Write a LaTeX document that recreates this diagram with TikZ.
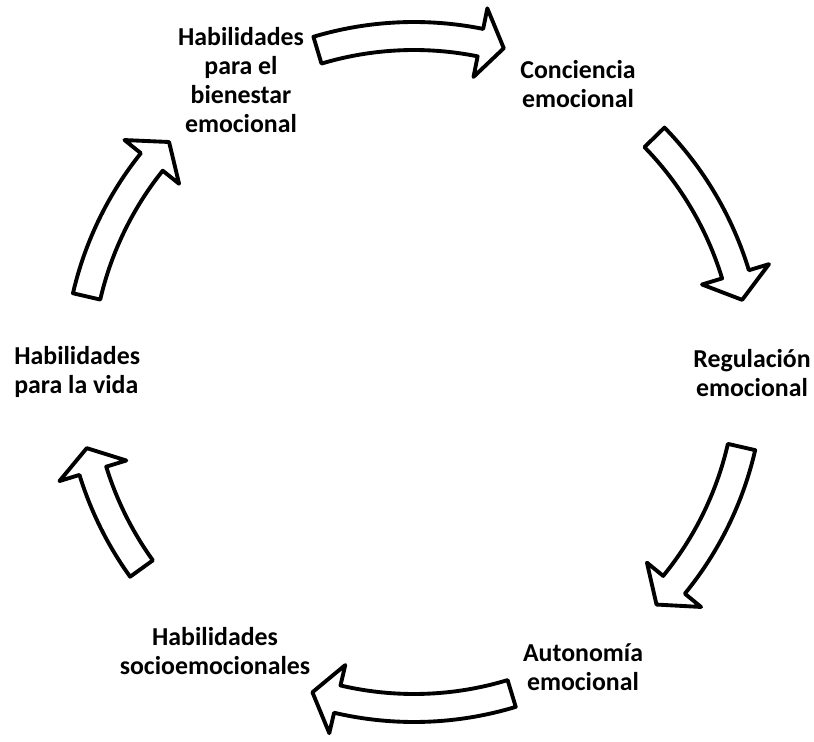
\documentclass[tikz,border=0pt]{standalone}
\usepackage{fontspec}
\setmainfont{Carlito}
\usepackage{tikz}
\usetikzlibrary{positioning}

\newcommand{\cyclearrow}[3]{%
\draw [blockarrow] (#1:350) arc [start angle=#1, end angle=#2, radius=350]
  -- (#2:371) -- (#3:336) -- (#2:301) -- (#2:322)
  arc [start angle=#2, end angle=#1, radius=322] -- cycle;}

\begin{document}
\begin{tikzpicture}[x=0.02cm, y=0.02cm]
\tikzstyle{every node}+=[inner sep=0pt]
\tikzstyle{blockarrow}=[black, fill=white, line width=2.2pt, line join=round]
\tikzstyle{cyclelabel}=[font=\bfseries\fontsize{14.7}{16.6}\selectfont, align=center]
\useasboundingbox (0,0) rectangle (814,741);
\node [cyclelabel] (bienestar) at (241,661) {Habilidades\\para el\\bienestar\\emocional};
\node [cyclelabel] (conciencia) at (578,657) {Conciencia\\emocional};
\node [cyclelabel] (regulacion) at (752,368) {Regulación\\emocional};
\node [cyclelabel] (autonomia) at (583,74) {Autonomía\\emocional};
\node [cyclelabel] (socio) at (215,90) {Habilidades\\socioemocionales};
\node [cyclelabel, align=left, anchor=west] (vida) at (14,369) {Habilidades\\para la vida};
\begin{scope}[shift={(414,369)}]
\cyclearrow{106.7}{78.6}{74.5}
\cyclearrow{44.3}{16.9}{12.4}
\cyclearrow{-12.9}{-39.3}{-43.8}
\cyclearrow{-73.1}{-103.2}{-107.6}
\cyclearrow{215.8}{197.1}{193.1}
\cyclearrow{167}{141.3}{136.8}
\end{scope}
\end{tikzpicture}
\end{document}
